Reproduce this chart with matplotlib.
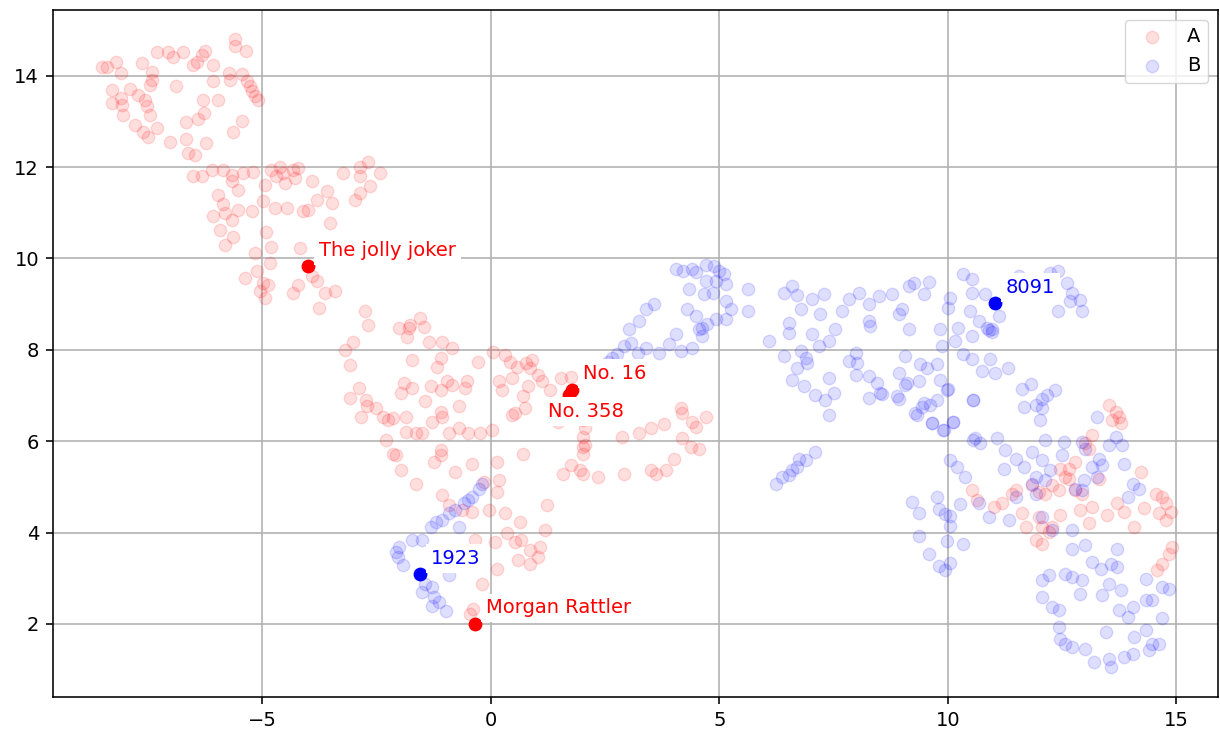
import matplotlib
matplotlib.use('Agg')
import matplotlib.pyplot as plt

# ---- data: group A (red) -------------------------------------------------
a_x = [-8.4, -8.2, -8.5, -8.1, -7.64, -7.31, -7.06, -6.96, -6.74, -6.44, -6.33, -6.26, -6.51, -6.09,
       -5.6, -5.6, -5.36, -7.42, -7.42, -7.46, -6.89, -6.07, -5.74, -5.71, -5.45, -5.34, -5.27, -5.23,
       -5.16, -5.09, -8.3, -8.1, -8.3, -8.06, -8.04, -7.9, -7.71, -7.57, -7.53, -7.46, -7.79, -7.61,
       -7.5, -7.31, -7.02, -6.29, -5.96, -6.28, -6.4, -6.66, -5.45, -5.65, -6.23, -6.66, -6.62, -6.47,
       -6.51, -6.33, -6.11, -5.85, -5.67, -5.67, -5.53, -5.42, -5.2, -4.94, -4.98, -5.23, -5.53, -5.67,
       -5.93, -6.07, -5.96, -5.85, -5.82, -5.64, -5.82,
       -4.8, -4.61, -4.54, -4.32, -4.21, -4.28, -4.5, -4.69, -3.92, -3.59, -3.48, -3.81, -3.99, -4.1,
       -4.47, -4.72, -3.52, -3.23, -2.86, -2.68, -2.86, -2.42, -2.64, -2.86, -2.97,
       -4.91, -4.8, -5.16, -4.83, -5.12, -5.38, -4.98, -4.87, -5.05, -4.94, -4.18, -3.92, -3.81, -4.21,
       -4.32, -3.63, -3.41, -3.77, -2.75, -2.68,
       -2.02, -1.8, -1.77, -1.55, -1.47, -1.84, -1.36, -1.07, -0.85, -3.01, -3.19,
       -1.1, -1.17, -3.09, -1.72, 0.05, -0.28, -2.88, -3.09, -2.73, -2.7, -2.51, -2.37, -2.26, -2.15,
       -2.84, -1.9, -1.72, -1.97, -1.86, -1.86, -1.64, -1.5, -1.32, -1.1, -0.96, -0.85, -0.56, -0.52,
       -1.43, -1.1, -1.07, -1.28, -0.69, -2.3, -2.15, -2.08, -1.97, -1.64, -0.92, -0.7, -0.49, -0.23,
       0.02, -1.1, -1.1, -1.25, -0.78, -0.41, 0.13, 0.17, -0.16, 0.13, -1.07, -0.92, -0.63, -0.41,
       -0.05, 0.31, 0.64, 0.35, 0.09, 0.53, 0.67, 1.07, 0.86, 0.6, 0.86, 1.04, 1.18, 1.22, 0.13, -0.2,
       -0.34, 0.31, 0.42, 0.57, 0.78, 0.89, 0.86, 1.04, 1.11, 0.82, 0.71, 0.75, 0.46, 0.53, 0.24, 0.17,
       0.46, 1.29, 1.54, 1.76, 1.47, 2.01, 2.05, 2.01, 2.01, 2.01, 1.76, 1.94, 2.01, 1.58, 2.34, 2.92,
       2.88, 3.25, 3.5, 3.79, 3.5, 3.61, 0.71, -0.45, -0.38,
       4.16, 4.19, 4.41, 4.48, 4.7, 4.19, 4.37, 4.56, 4.01, 3.83, 2.05,
       13.52, 13.67, 13.74, 13.78, 13.6, 13.16, 13.01, 13.08, 12.79, 12.65, 12.46, 12.57, 12.65, 12.28,
       12.43, 12.13, 11.99, 11.84, 11.48, 11.4, 11.18, 11.0, 10.53, 10.64, 11.62, 11.7, 11.99, 12.06,
       11.92, 12.06, 12.28, 12.21, 12.46, 12.79, 12.94, 13.16, 13.08, 12.9, 13.3, 13.71, 13.85, 13.49,
       14.07, 14.29, 14.22, 14.55, 14.69, 14.77, 14.88, 14.77, 14.62, 14.84, 14.91, 14.69, 14.58]
a_y = [14.2, 14.3, 14.2, 14.05, 14.28, 14.51, 14.53, 14.42, 14.51, 14.31, 14.46, 14.55, 14.24, 14.23,
       14.8, 14.66, 14.55, 14.09, 13.91, 13.8, 13.77, 13.88, 14.07, 13.91, 14.04, 13.88, 13.77, 13.66,
       13.55, 13.47, 13.69, 13.51, 13.4, 13.36, 13.15, 13.71, 13.58, 13.47, 13.33, 13.15, 12.93, 12.78,
       12.67, 12.85, 12.56, 13.46, 13.46, 13.18, 13.05, 12.98, 13.0, 12.76, 12.53, 12.61, 12.31, 12.27,
       11.8, 11.8, 11.94, 11.94, 11.83, 11.69, 11.5, 11.87, 11.9, 11.61, 11.25, 11.03, 11.07, 10.85,
       10.63, 10.92, 11.39, 11.2, 10.99, 10.48, 10.3,
       11.94, 12.01, 11.87, 11.94, 11.98, 11.76, 11.65, 11.8, 11.69, 11.47, 11.21, 11.28, 11.07, 11.03,
       11.1, 11.1, 10.77, 11.87, 12.01, 12.12, 11.8, 11.87, 11.58, 11.43, 11.28,
       10.59, 10.26, 10.12, 9.9, 9.72, 9.57, 9.46, 9.42, 9.28, 9.13, 10.23, 9.61, 9.5, 9.42,
       9.24, 9.24, 9.28, 8.91, 8.84, 8.55,
       8.47, 8.47, 8.55, 8.69, 8.51, 8.29, 8.18, 8.18, 8.04, 8.18, 8.0,
       7.82, 7.63, 7.67, 7.77, 7.96, 7.74, 7.16, 6.94, 6.9, 6.76, 6.72, 6.54, 6.46, 6.5,
       6.54, 7.27, 7.16, 7.05, 6.54, 6.21, 6.17, 6.17, 7.2, 7.12, 7.31, 7.23, 7.16, 7.31,
       6.87, 6.65, 6.54, 6.43, 6.76, 6.02, 5.73, 5.7, 5.37, 5.07, 6.17, 6.28, 6.17, 6.17,
       6.24, 5.81, 5.7, 5.55, 5.33, 5.51, 5.55, 5.15, 5.11, 4.89, 4.82, 4.6, 4.49, 4.45,
       4.49, 4.42, 4.23, 3.98, 3.79, 3.79, 3.83, 3.68, 3.61, 3.39, 3.32, 3.46, 4.05, 4.6, 3.21, 2.88,
       3.83, 7.89, 7.74, 7.63, 7.71, 7.78, 7.6, 7.45, 7.31, 7.2, 6.98, 6.72, 6.57, 6.61, 7.12, 7.31,
       7.38, 7.12, 7.38, 7.41, 6.43, 6.46, 6.28, 6.1, 5.88, 5.73, 5.48, 5.37, 5.29, 5.29, 5.22, 5.29,
       6.1, 6.17, 6.28, 6.38, 5.37, 5.29, 5.73, 2.22, 2.33,
       6.72, 6.61, 6.43, 6.32, 6.52, 6.06, 5.88, 5.82, 5.62, 5.36, 5.91,
       6.79, 6.64, 6.53, 6.39, 6.46, 6.13, 5.95, 5.84, 5.55, 5.4, 5.4, 5.22, 5.18, 5.04,
       4.93, 4.85, 4.89, 5.04, 4.93, 4.85, 4.64, 4.56, 4.93, 4.71, 4.42, 4.12, 4.34, 4.12,
       3.83, 3.76, 4.12, 4.01, 4.38, 4.93, 4.85, 4.56, 4.2, 4.49, 5.18, 4.64, 4.45, 4.38,
       4.12, 4.53, 5.33, 4.85, 4.78, 4.64, 4.45, 4.27, 4.42, 3.54, 3.69, 3.32, 3.18]

# ---- data: group B (blue) ------------------------------------------------
b_x = [4.05, 4.21, 4.41, 4.48, 4.7, 4.88, 4.99, 5.1, 5.14, 4.7, 4.92, 4.34, 4.67, 4.85, 5.63, 5.63,
       5.14, 5.25, 5.14, 4.92, 4.74, 4.63, 4.56, 4.63, 4.3, 4.48, 4.05, 3.9, 4.16, 4.41, 3.68, 3.57,
       3.39, 3.25, 3.03, 2.92, 2.77, 2.66, 3.39, 3.21, 6.08, 3.07, 2.56,
       6.41, 6.59, 6.7, 7.03, 7.29, 6.78, 7.21, 6.52, 6.52, 7.03, 7.54, 7.39, 7.18, 6.41, 6.78, 6.92,
       6.89, 6.7, 6.59, 6.85, 7.1, 7.32, 7.39, 7.5, 7.39,
       7.69, 7.83, 8.05, 8.27, 8.49, 8.78, 9.0, 8.92, 9.14, 9.25, 9.58, 9.47, 8.27, 8.3, 9.14, 7.83,
       8.01, 7.98, 7.98, 8.27, 8.45, 8.52, 8.27, 8.89, 8.92, 9.07, 9.1, 9.36, 9.4, 9.54, 9.76, 9.47,
       9.32, 9.65, 9.83, 9.98, 9.91, 10.12, 9.83, 9.87, 10.05, 10.01, 10.34, 10.52, 10.52, 10.82,
       10.49, 10.67, 10.23, 10.52, 10.16, 10.34, 10.52, 10.74, 10.92, 11.03, 11.32, 10.56, 10.85,
       10.96, 11.11, 10.89, 10.96,
       11.62, 11.55, 12.24, 12.42, 12.61, 12.72, 12.68, 12.9, 12.93, 12.42,
       -0.2, -0.27, -0.41, -0.49, -0.59, -0.78, -0.92, -1.07, -1.21, -1.32, -0.7, -1.5, -1.72, -2.01,
       -2.08, -2.04, -1.93, -0.92, -1.43, -1.28, -1.5, -1.25, -1.14, -0.99, -1.28,
       6.23, 6.38, 6.52, 6.59, 6.7, 6.74, 6.89, 7.1,
       9.21, 9.36, 9.76, 9.8, 9.94, 10.05, 10.05, 10.27, 9.36, 9.98, 10.34, 9.58, 9.8, 10.05, 9.94,
       10.05, 10.2, 10.38, 10.56,
       8.55, 8.92, 9.06, 9.28, 9.43, 9.61, 9.65, 9.76, 9.9, 10.01, 10.12, 10.56, 11.62, 11.81, 11.66,
       11.92, 12.06, 12.17, 12.35, 12.06, 12.02, 13.27, 13.67, 13.82, 13.52,
       10.6, 10.71, 11.07, 11.26, 11.48, 11.22, 11.66, 11.84, 12.06, 12.13, 12.54, 12.5, 12.94, 13.01,
       13.3, 13.38, 13.16, 12.98, 11.92, 11.84, 11.92, 12.13, 12.24, 12.79, 12.94, 13.27, 13.85, 14.04,
       14.18, 13.93, 10.67, 10.89, 11.33, 11.48, 12.06, 12.28, 12.72, 12.72, 13.01, 13.16, 13.34, 13.56,
       13.71, 13.71, 13.52, 13.78, 14.33, 14.47, 14.69, 14.84, 14.69, 13.74, 13.93, 14.33, 14.04, 12.06,
       12.21, 12.06, 12.28, 12.43, 12.57, 12.72, 12.94, 12.9, 13.38, 12.43, 12.46, 12.57, 12.72, 13.01,
       13.19, 13.52, 13.56, 13.85, 14.04, 14.07, 14.33, 14.47, 14.62, 14.4, 13.45]
b_y = [9.78, 9.73, 9.78, 9.71, 9.85, 9.84, 9.73, 9.66, 9.44, 9.51, 9.51, 9.33, 9.22, 9.25, 9.33, 8.85,
       9.07, 8.89, 8.67, 8.67, 8.56, 8.48, 8.45, 8.3, 8.89, 8.74, 8.34, 8.12, 7.97, 8.04, 7.93, 9.0,
       8.89, 8.63, 8.45, 8.08, 7.9, 7.82, 8.04, 7.93, 8.19, 8.15, 7.74,
       9.25, 9.4, 9.19, 9.11, 9.22, 8.89, 8.78, 8.59, 8.37, 8.34, 8.45, 8.19, 8.08, 7.86, 7.97, 7.71,
       7.82, 7.6, 7.35, 7.2, 7.02, 6.91, 7.38, 7.05, 6.58,
       8.85, 9.11, 9.25, 9.0, 9.18, 9.22, 8.89, 8.78, 9.4, 9.47, 9.49, 9.22, 8.63, 8.52, 8.45, 7.75,
       7.71, 7.93, 7.46, 7.42, 7.27, 7.05, 6.95, 6.98, 7.49, 7.86, 7.27, 7.31, 7.68, 7.6, 7.68, 6.84,
       6.58, 6.4, 7.35, 7.13, 6.25, 6.43, 8.45, 8.08, 9.14, 8.92, 9.66, 9.55, 9.25, 9.22,
       8.85, 8.63, 8.48, 8.3, 8.19, 7.9, 7.79, 7.53, 7.79, 7.49, 7.6, 6.91, 8.48,
       8.45, 8.74, 8.43, 8.4,
       9.24, 9.61, 9.69, 9.73, 9.47, 9.24, 9.06, 9.1, 8.84, 8.84,
       5.07, 4.96, 4.78, 4.71, 4.64, 4.49, 4.42, 4.27, 4.23, 4.12, 4.12, 3.83, 3.83, 3.68,
       3.57, 3.46, 3.28, 3.06, 2.88, 2.81, 2.7, 2.59, 2.48, 2.29, 2.4,
       5.07, 5.21, 5.25, 5.36, 5.43, 5.62, 5.58, 5.76,
       4.66, 4.42, 4.77, 4.51, 4.4, 4.37, 4.15, 4.63, 3.93, 3.82, 3.74, 3.52, 3.26, 3.34, 3.19,
       5.58, 5.43, 5.21, 6.02,
       7.04, 6.93, 7.23, 6.61, 6.75, 6.79, 6.39, 6.9, 6.24, 7.15, 6.42, 6.9, 7.15, 7.26, 6.75,
       6.79, 6.93, 7.01, 7.12, 6.72, 6.46, 6.53, 6.09, 5.91, 5.91,
       6.06, 5.95, 6.06, 5.8, 5.62, 5.4, 5.44, 5.77, 5.58, 6.02, 5.99, 5.69, 5.99, 5.84,
       5.62, 5.47, 5.44, 5.15, 5.22, 5.07, 4.85, 5.15, 5.36, 4.96, 4.93, 5.22, 5.51, 5.07,
       4.96, 4.78, 4.64, 4.34, 4.27, 4.78, 4.34, 4.05, 4.05, 3.65, 3.72, 3.36, 3.21, 3.32,
       3.65, 3.25, 2.88, 2.74, 2.99, 2.52, 2.81, 2.77, 2.12, 2.3, 2.15, 2.52, 2.37, 2.96,
       3.07, 2.59, 2.37, 2.3, 3.1, 3.03, 2.96, 2.66, 2.63, 1.93, 1.68, 1.57, 1.5, 1.46,
       1.17, 1.24, 1.06, 1.28, 1.35, 1.72, 1.86, 1.57, 1.57, 1.42, 1.82]

# ---- highlighted items ---------------------------------------------------
hl_names = ['The jolly joker', 'No. 16', 'No. 358', 'Morgan Rattler', '1923', '8091']
hl_x = [-4.0, 1.78, 1.7, -0.35, -1.55, 11.03]
hl_y = [9.83, 7.13, 7.02, 2.0, 3.09, 9.02]
hl_group = ['A', 'A', 'A', 'A', 'B', 'B']

group_color = {'A': 'red', 'B': 'blue'}
# label offsets in points (most sit up-right of the dot)
label_offset = {'No. 358': (-15, -16)}
default_offset = (8, 7.5)

fig = plt.figure(figsize=(12.2, 7.29), dpi=100)
ax = fig.add_axes([53 / 1220, 32 / 729, 1165 / 1220, 687 / 729])

ax.scatter(a_x, a_y, s=80, c='red', alpha=0.13, linewidths=1.0, label='A')
ax.scatter(b_x, b_y, s=80, c='blue', alpha=0.13, linewidths=1.0, label='B')

for name, x, y, g in zip(hl_names, hl_x, hl_y, hl_group):
    col = group_color[g]
    ax.scatter([x], [y], s=80, c=col, linewidths=1.0, zorder=3)
    ax.annotate(name, (x, y), xytext=label_offset.get(name, default_offset),
                textcoords='offset points', color=col, fontsize=14, zorder=4,
                bbox=dict(boxstyle='square,pad=0.25', fc='white', ec='none'))

ax.set_xlim(-9.58, 15.91)
ax.set_ylim(0.40, 15.44)
ax.set_xticks([-5, 0, 5, 10, 15])
ax.set_yticks([2, 4, 6, 8, 10, 12, 14])
ax.grid(True, color='#b0b0b0', linewidth=1.15)
ax.set_axisbelow(True)
ax.tick_params(labelsize=14, length=5, width=1.15, pad=5)
for sp in ax.spines.values():
    sp.set_linewidth(1.15)

ax.legend(loc='upper right', fontsize=14, frameon=True)

fig.savefig('out.png', dpi=100)
